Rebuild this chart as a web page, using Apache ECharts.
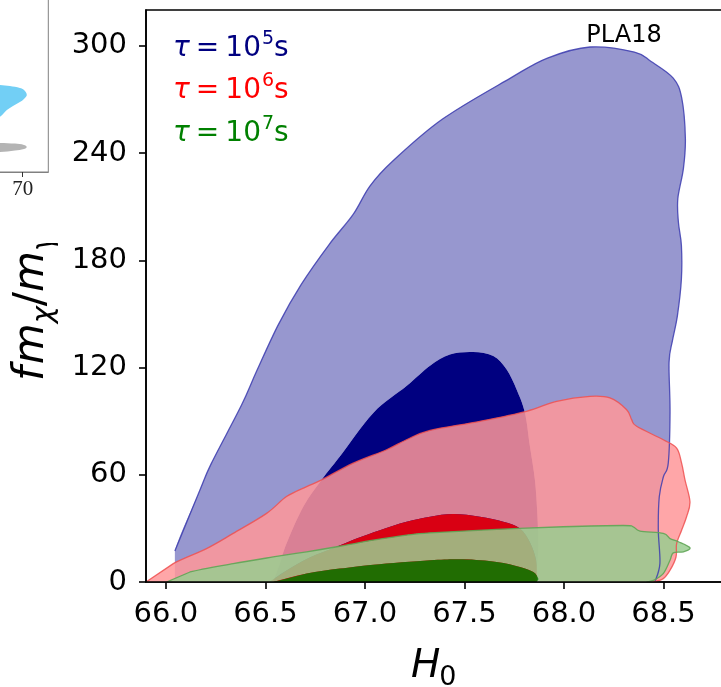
<!DOCTYPE html>
<html>
<head>
<meta charset="utf-8">
<script src="https://cdn.jsdelivr.net/npm/echarts@6/dist/echarts.min.js"></script>
<style>
  html, body { margin: 0; padding: 0; background: #fff; }
  #chart { width: 721px; height: 687px; }
</style>
</head>
<body>
<div id="chart"></div>
<script>
// Axis ticks
const xTicks = [66.0, 66.5, 67.0, 67.5, 68.0, 68.5, 69.0];
const yTicks = [0, 60, 120, 180, 240, 300];
const sideTicks = [70];

// Contours [H0, f m_chi / m_gamma]; outer = 2 sigma, inner = 1 sigma
const blueOuter = [[66.045,0],[66.045,17.4],[66.171,51.5],[66.229,66.5],[66.38,99],[66.456,118],[66.565,144],
  [66.68,166.5],[66.82,188.8],[66.94,205.5],[67.025,221.5],[67.14,235.5],[67.39,259],[67.731,281.9],[67.917,293.1],
  [68.131,299.3],[68.354,296.5],[68.438,291.2],[68.549,281.9],[68.592,270.6],[68.61,248.1],[68.60,231.3],[68.572,214.4],
  [68.575,201.3],[68.59,188.2],[68.59,169.5],[68.57,149],[68.545,135],[68.528,123],[68.533,95],[68.524,66.5],
  [68.50,59],[68.479,47.8],[68.474,29],[68.482,10.3],[68.457,0]];
const blueInner = [[66.539,0],[66.573,10.3],[66.606,21.5],[66.69,42.1],[66.782,57.1],[66.874,70.2],[67.042,94.6],
  [67.209,109.6],[67.327,121],[67.427,127.3],[67.544,128.7],[67.645,126.4],[67.712,118.9],[67.762,107.7],[67.804,94.6],
  [67.829,75.8],[67.854,57.1],[67.866,38.4],[67.871,19.7],[67.862,6.6],[67.854,0]];
const redOuter = [[65.90,0],[66.037,10.3],[66.204,18.7],[66.338,27.2],[66.506,38.4],[66.606,47.8],[66.707,53.4],
  [66.782,57.1],[66.941,66.5],[67.109,74],[67.209,79.6],[67.327,84.8],[67.578,89.9],[67.812,95.5],[67.963,101.1],
  [68.13,103.9],[68.231,103],[68.315,96.4],[68.34,90.8],[68.365,87.1],[68.499,79.6],[68.566,74.9],[68.591,66.5],
  [68.608,57.1],[68.633,44.9],[68.616,36.5],[68.591,29],[68.566,21.5],[68.563,14],[68.533,6.6],[68.499,1.9],[68.449,0]];
const redInner = [[66.52,0],[66.6,6],[66.72,13.5],[66.858,19.7],[66.958,24.3],[67.075,29],[67.209,33.7],[67.327,36.5],
  [67.444,38],[67.578,36.5],[67.695,33.7],[67.779,30],[67.83,22],[67.86,12],[67.865,0]];
const greenOuter = [[66.003,0],[66.121,5.6],[66.338,10.3],[66.539,14],[66.707,16.9],[66.874,20],[67.042,23.4],
  [67.209,26.2],[67.327,27.5],[67.662,29.4],[67.997,30.9],[68.298,31.6],[68.348,30.9],[68.382,28.5],[68.499,27.2],
  [68.533,24.3],[68.575,22.5],[68.633,19.1],[68.6,16.9],[68.549,16.3],[68.533,12.2],[68.499,4.7],[68.449,0.9],[68.415,0]];
const greenInner = [[66.539,0],[66.707,4.7],[66.874,7.5],[67.042,9.7],[67.327,12.2],[67.494,12.7],[67.662,11.2],
  [67.779,8.4],[67.846,5.6],[67.871,1.9],[67.862,0]];

// Neighbouring panel (partly visible)
const sideBlue = [[68.33,0.396],[69.11,0.392],[69.5,0.387],[69.89,0.378],[70.05,0.369],[70.16,0.347],[70.05,0.329],
  [69.89,0.315],[69.62,0.297],[69.38,0.279],[69.11,0.249],[68.33,0.212]];
const sideGray = [[68.33,0.133],[69.11,0.131],[69.70,0.128],[70.05,0.122],[70.16,0.113],[70.05,0.104],[69.70,0.097],
  [69.11,0.09],[68.33,0.088]];

// Legend entries: exponent of tau in seconds
const tauExponents = ['5', '6', '7'];
const datasetLabel = 'PLA18';

const FONT = '"DejaVu Sans"';

function pathFrom(pts, closed) {
  const f = v => v.toFixed(2);
  let d = 'M' + f(pts[0][0]) + ',' + f(pts[0][1]) + ' L' + f(pts[1][0]) + ',' + f(pts[1][1]);
  const n = pts.length;
  for (let i = 1; i < n - 1; i++) {
    const p0 = pts[i - 1], p1 = pts[i], p2 = pts[i + 1], p3 = pts[Math.min(i + 2, n - 1)];
    const c1 = [p1[0] + (p2[0] - p0[0]) / 6, p1[1] + (p2[1] - p0[1]) / 6];
    const c2 = [p2[0] - (p3[0] - p1[0]) / 6, p2[1] - (p3[1] - p1[1]) / 6];
    d += ' C' + f(c1[0]) + ',' + f(c1[1]) + ' ' + f(c2[0]) + ',' + f(c2[1]) + ' ' + f(p2[0]) + ',' + f(p2[1]);
  }
  if (closed) d += ' Z';
  return d;
}

function bandSeries(outer, inner, fill, z) {
  return {
    type: 'custom', xAxisIndex: 0, yAxisIndex: 0, z: z, silent: true, clip: true,
    data: outer,
    renderItem: function (params, api) {
      if (params.dataIndex !== 0) return null;
      let d = pathFrom(outer.map(p => api.coord(p)), true);
      if (inner) d += ' ' + pathFrom(inner.map(p => api.coord(p)).reverse(), true);
      return { type: 'path', shape: { pathData: d }, style: { fill: fill, stroke: null } };
    }
  };
}

function edgeSeries(pts, start, color, z) {
  return {
    type: 'custom', xAxisIndex: 0, yAxisIndex: 0, z: z, silent: true, clip: true,
    data: pts,
    renderItem: function (params, api) {
      if (params.dataIndex !== 0) return null;
      const d = pathFrom(pts.slice(start).map(p => api.coord(p)), false);
      return { type: 'path', shape: { pathData: d }, style: { fill: null, stroke: color, lineWidth: 1.3 } };
    }
  };
}

function blobSeries(pts, fill) {
  return {
    type: 'custom', xAxisIndex: 1, yAxisIndex: 1, z: 5, silent: true, clip: true,
    data: pts,
    renderItem: function (params, api) {
      if (params.dataIndex !== 0) return null;
      return { type: 'polygon', shape: { points: pts.map(p => api.coord(p)), smooth: 0.35 }, style: { fill: fill } };
    }
  };
}

// Text runs (mathtext-like pieces) laid out with measured widths
const mctx = document.createElement('canvas').getContext('2d');
function runs(x0, baseline, parts, color, z) {
  const out = [];
  let x = x0;
  parts.forEach(p => {
    const font = (p.italic ? 'italic ' : '') + p.size + 'px ' + FONT;
    mctx.font = font;
    const w = mctx.measureText(p.t).width;
    out.push({
      type: 'text', x: x + (p.dx || 0), y: baseline + (p.dy || 0) - 0.346 * p.size, z: z, silent: true,
      style: { text: p.t, font: font, fill: color, align: 'left', verticalAlign: 'middle' }
    });
    x += w + (p.dx || 0) + (p.gap || 0);
  });
  return out;
}

const legendColors = ['#000080', '#ff0000', '#008000'];
const legendBaselines = [58, 100, 143];
let graphics = [];
tauExponents.forEach((e, i) => {
  graphics = graphics.concat(runs(173, legendBaselines[i], [
    { t: '\u03c4', size: 28, italic: true, gap: 6 },
    { t: '=', size: 28, gap: 6 },
    { t: '10', size: 28, gap: 1 },
    { t: e, size: 19, dy: -12, gap: 0 },
    { t: 's', size: 28 }
  ], legendColors[i], 20));
});

// PLA18 tag
graphics.push({
  type: 'text', x: 624, y: 36, z: 20, silent: true,
  style: { text: datasetLabel, font: '24px ' + FONT, fill: '#000', align: 'center', verticalAlign: 'middle' }
});

// x-axis title H_0
graphics = graphics.concat(runs(411, 680, [
  { t: 'H', size: 39, italic: true, gap: 0 },
  { t: '0', size: 27, dy: 7, dx: -1 }
], '#000', 20));

// y-axis title f m_chi / m_gamma (rotated)
graphics.push({
  type: 'group', x: 47, y: 381, rotation: Math.PI / 2, z: 1,
  children: runs(0, 0, [
    { t: 'f', size: 42, italic: true, gap: 2 },
    { t: 'm', size: 42, italic: true, gap: 0 },
    { t: '\u03c7', size: 29, italic: true, dy: 8, gap: 0 },
    { t: '/', size: 42, gap: 0 },
    { t: 'm', size: 42, italic: true, gap: 0 },
    { t: '\u03b3', size: 29, italic: true, dy: 8 }
  ], '#000', 1)
});
// paper margin of the neighbouring panel, covering the end of the title
graphics.push({ type: 'rect', shape: { x: 0, y: 200, width: 72, height: 43 }, style: { fill: '#fff' }, z: 2, silent: true });

const chart = echarts.init(document.getElementById('chart'), null, { renderer: 'canvas' });
chart.setOption({
  animation: false,
  backgroundColor: '#fff',
  grid: [
    { left: 146, top: 10, width: 617, height: 572, outerBoundsMode: 'none', containLabel: false,
      show: true, borderColor: '#000', borderWidth: 1.6, backgroundColor: 'transparent' },
    { left: -182, top: -50, width: 230.3, height: 222, outerBoundsMode: 'none', containLabel: false,
      show: true, borderColor: '#808080', borderWidth: 1, backgroundColor: '#fff', z: 3 }
  ],
  xAxis: [
    {
      gridIndex: 0, type: 'value', min: 65.9, max: 69.0, z: 10,
      axisLine: { lineStyle: { color: '#000', width: 1.6 } },
      axisTick: { customValues: xTicks, length: 7, lineStyle: { color: '#000', width: 1.6 } },
      axisLabel: { customValues: xTicks, formatter: v => v.toFixed(1), fontSize: 29, fontFamily: 'DejaVu Sans', color: '#000', margin: 18 },
      splitLine: { show: false }
    },
    {
      gridIndex: 1, type: 'value', min: 62, max: 71, z: 6,
      axisLine: { lineStyle: { color: '#808080', width: 1 } },
      axisTick: { customValues: sideTicks, length: 5, lineStyle: { color: '#333', width: 1 } },
      axisLabel: { customValues: sideTicks, fontSize: 21, fontFamily: 'Liberation Serif', color: '#222', margin: 7 },
      splitLine: { show: false }
    }
  ],
  yAxis: [
    {
      gridIndex: 0, type: 'value', min: 0, max: 320, z: 10,
      axisLine: { show: true, lineStyle: { color: '#000', width: 1.6 } },
      axisTick: { show: true, customValues: yTicks, length: 7, lineStyle: { color: '#000', width: 1.6 } },
      axisLabel: { customValues: yTicks, fontSize: 29, fontFamily: 'DejaVu Sans', color: '#000', margin: 19 },
      splitLine: { show: false }
    },
    { gridIndex: 1, type: 'value', min: 0, max: 1, show: false }
  ],
  series: [
    bandSeries(blueOuter, blueInner, '#9797cf', 2),
    bandSeries(blueInner, null, '#000080', 3),
    bandSeries(redOuter, redInner, 'rgba(255,150,153,0.85)', 4),
    bandSeries(redInner, null, 'rgba(255,0,0,0.85)', 5),
    bandSeries(greenOuter, greenInner, 'rgba(153,205,143,0.85)', 6),
    bandSeries(greenInner, null, 'rgba(0,128,0,0.85)', 7),
    edgeSeries(blueOuter, 1, 'rgba(60,60,175,0.85)', 8),
    edgeSeries(redOuter, 0, 'rgba(238,80,80,0.85)', 8),
    edgeSeries(greenOuter, 0, 'rgba(95,165,85,0.9)', 8),
    blobSeries(sideBlue, '#72cff5'),
    blobSeries(sideGray, '#b4b4b4')
  ],
  graphic: graphics
});
</script>
</body>
</html>
